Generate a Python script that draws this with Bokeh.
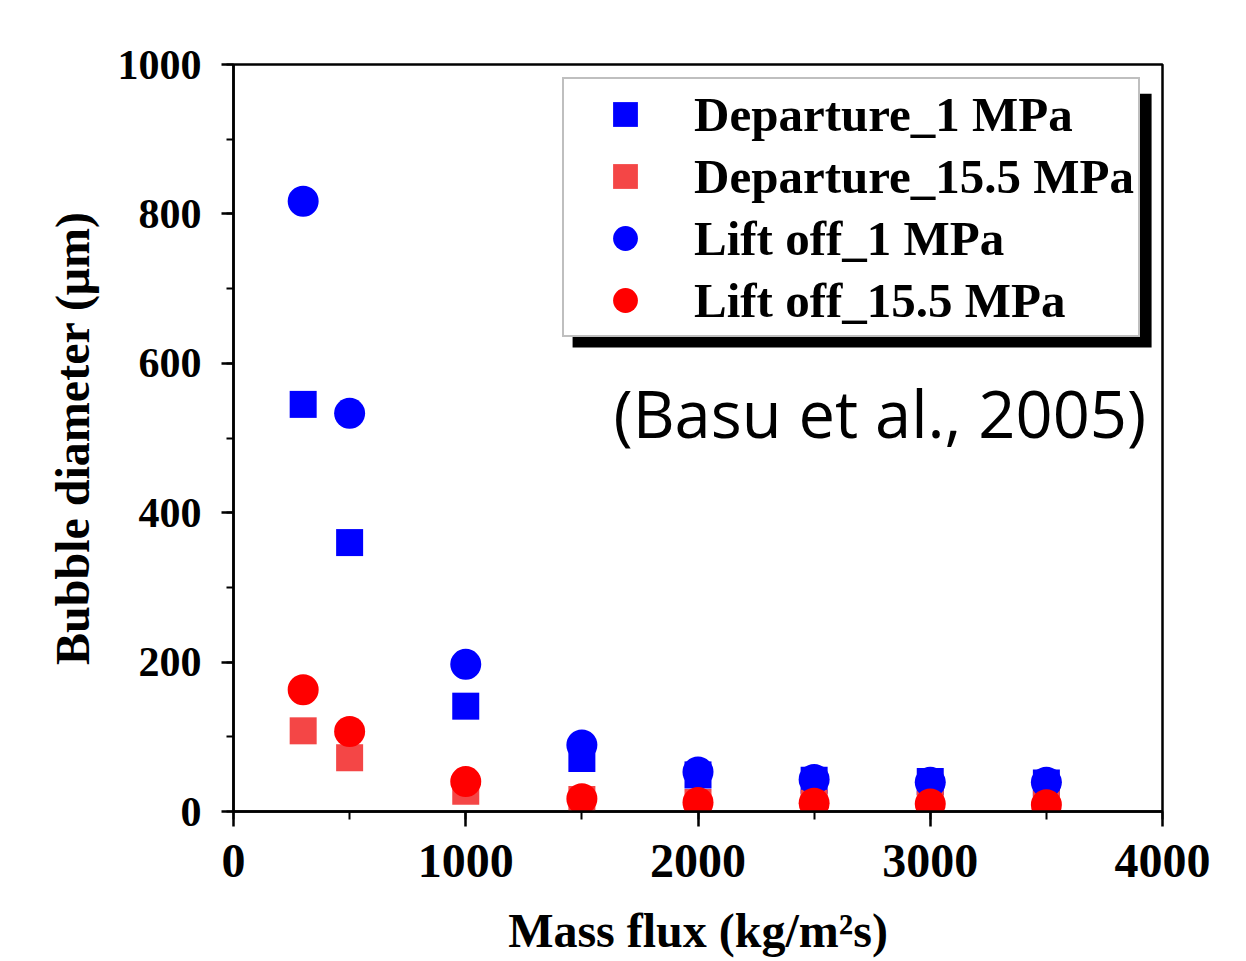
from bokeh.plotting import figure
from bokeh.models import (Range1d, SingleIntervalTicker, Legend, LegendItem,
                          BoxAnnotation, Label, ColumnDataSource)
from bokeh.embed import file_html
from bokeh.resources import INLINE

# ---- data ----
mass_flux = [300, 500, 1000, 1500, 2000, 2500, 3000, 3500]
departure_1 = [545, 360, 141, 71, 49, 42, 40, 38]
departure_15_5 = [108, 72, 27, 16, 12, 11, 10, 10]
liftoff_1 = [817, 533, 197, 89, 53, 43, 39, 39]
liftoff_15_5 = [163, 107, 40, 17, 12, 11, 10, 9]

series_names = ["Departure_1 MPa", "Departure_15.5 MPa", "Lift off_1 MPa", "Lift off_15.5 MPa"]
x_ticks_interval = 1000
y_ticks_interval = 200

SERIF = "Liberation Serif"

p = figure(width=1238, height=961,
           x_range=Range1d(0, 4000), y_range=Range1d(0, 1000),
           output_backend="svg", toolbar_location=None,
           min_border_left=233, min_border_right=76,
           min_border_top=64, min_border_bottom=150)

p.background_fill_color = "white"
p.border_fill_color = "white"
p.outline_line_color = "black"
p.outline_line_width = 2.5
p.xgrid.visible = False
p.ygrid.visible = False

p.xaxis.ticker = SingleIntervalTicker(interval=x_ticks_interval, num_minor_ticks=2)
p.yaxis.ticker = SingleIntervalTicker(interval=y_ticks_interval, num_minor_ticks=2)

for ax in (p.xaxis[0], p.yaxis[0]):
    ax.axis_line_color = "black"
    ax.axis_line_width = 2.5
    ax.major_tick_line_color = "black"
    ax.major_tick_line_width = 2.5
    ax.minor_tick_line_color = "black"
    ax.minor_tick_line_width = 2
    ax.major_tick_in = 0
    ax.minor_tick_in = 0
    ax.major_label_text_font = SERIF
    ax.major_label_text_font_style = "bold"
    ax.major_label_text_color = "black"
    ax.axis_label_text_font = SERIF
    ax.axis_label_text_font_style = "bold"
    ax.axis_label_text_font_size = "48px"
    ax.axis_label_text_color = "black"

p.xaxis.major_tick_out = 15
p.xaxis.minor_tick_out = 8
p.yaxis.major_tick_out = 12
p.yaxis.minor_tick_out = 7
p.xaxis.major_label_text_font_size = "48px"
p.yaxis.major_label_text_font_size = "42px"
p.xaxis.major_label_standoff = 18
p.yaxis.major_label_standoff = 20
p.xaxis.axis_label = "Mass flux (kg/m²s)"
p.yaxis.axis_label = "Bubble diameter (μm)"
p.xaxis.axis_label_standoff = 24
p.yaxis.axis_label_standoff = 16

src = ColumnDataSource(dict(x=mass_flux, d1=departure_1, d155=departure_15_5,
                            l1=liftoff_1, l155=liftoff_15_5))

r1 = p.scatter("x", "d1", source=src, marker="square", size=27,
               fill_color="#0000FF", line_color=None)
r2 = p.scatter("x", "d155", source=src, marker="square", size=27,
               fill_color="#F44646", line_color=None)
r3 = p.scatter("x", "l1", source=src, marker="circle", size=31,
               fill_color="#0000FF", line_color=None)
r4 = p.scatter("x", "l155", source=src, marker="circle", size=31,
               fill_color="#FF0000", line_color=None)

# legend drop shadow
shadow = BoxAnnotation(left=1460, right=3953, bottom=621, top=961,
                       fill_color="black", fill_alpha=1.0, line_color=None,
                       level="annotation")
p.add_layout(shadow)

legend = Legend(items=[LegendItem(label=n, renderers=[r]) for n, r in
                       zip(series_names, [r1, r2, r3, r4])],
                location=(329, 474), orientation="vertical",
                padding=4, margin=0, spacing=0,
                glyph_width=114, glyph_height=62, label_standoff=12,
                label_text_font=SERIF, label_text_font_style="bold",
                label_text_font_size="49px", label_text_color="black",
                border_line_color="#808080", border_line_width=2,
                background_fill_color="white", background_fill_alpha=1.0)
p.add_layout(legend)

p.add_layout(Label(x=1636, y=534, text="(Basu et al., 2005)",
                   text_font="Open Sans", text_font_size="65px",
                   text_color="black", text_baseline="alphabetic"))

open("out.html", "w").write(file_html(p, INLINE))
